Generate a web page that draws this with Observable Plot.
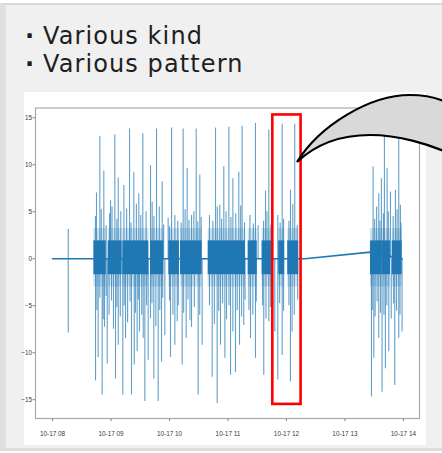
<!DOCTYPE html>
<html><head><meta charset="utf-8">
<script src="https://cdn.jsdelivr.net/npm/d3@7"></script>
<script src="https://cdn.jsdelivr.net/npm/@observablehq/plot@0.6"></script>
<style>
html,body{margin:0;padding:0;background:#fff;width:442px;height:453px;overflow:hidden;}
#slide{position:absolute;left:0;top:3px;width:460px;height:448px;background:#f0f0f0;box-sizing:border-box;border-top:2px solid #d9d9d9;border-left:6px solid #e0e0e0;border-bottom:3px solid #dcdcdc;}
.txt{position:absolute;height:24px;font-family:"DejaVu Sans",sans-serif;font-size:24px;line-height:24px;color:#1e1e1e;white-space:nowrap;}
.t{left:43px;letter-spacing:1.1px;}
.b{left:25px;font-weight:bold;}
#chart{position:absolute;left:24px;top:92px;}
#overlay{position:absolute;left:0;top:0;pointer-events:none;}
</style></head>
<body>
<div id="slide"></div>
<div class="txt b" style="top:24.3px">·</div>
<div class="txt t" style="top:24.3px">Various kind</div>
<div class="txt b" style="top:52.3px">·</div>
<div class="txt t" style="top:52.3px">Various pattern</div>
<div id="chart"></div>
<svg id="overlay" width="442" height="453"></svg>
<script>
// minutes after 10-17 08:00
const hourTicks = [8, 9, 10, 11, 12, 13, 14];
const hourLabels = ["10-17 08", "10-17 09", "10-17 10", "10-17 11", "10-17 12", "10-17 13", "10-17 14"];
const yTicks = [-15, -10, -5, 0, 5, 10, 15];

// baseline trace (min, value)
const baseMin = [0, 258.8, 326.2, 358.7];
const baseVal = [0, 0, 0.7, 0];

// dense bursts: start, end (min)
const burstStart = [42.4, 57.1, 72.1, 100.5, 119.3, 131.3, 159.7, 200.7, 215.0, 232.1, 241.3, 326.2, 338.2, 348.5];
const burstEnd   = [55.1, 71.4, 98.8, 114.2, 130.2, 153.5, 198.0, 210.0, 225.3, 238.2, 252.6, 338.2, 346.7, 358.7];

// small isolated event
const eventMin = [16.1, 16.1];
const eventVal = [3.1, -7.9];

// upward spikes (min, value)
const upMin = [45.1, 48.5, 52.6, 59.5, 63.9, 67.4, 73.2, 79.0, 83.4, 88.5, 92.6, 100.5, 102.2, 106.7, 112.5, 118.6, 122.1, 125.5, 134.0, 138.1, 142.6, 147.4, 151.1, 167.2, 171.6, 175.7, 180.9, 185.0, 191.1, 194.5, 208.2, 210.9, 218.5, 221.9, 231.1, 235.6, 244.1, 248.5, 328.9, 334.7, 337.4, 340.5, 343.3, 346.7, 351.8, 355.2, 356.9,
  44, 50, 55, 58.5, 61, 66, 70, 76, 80.5, 86, 90.5, 96, 104, 109.5, 114, 120, 128.5, 132, 136, 140, 145, 149, 152.5, 161, 164.5, 169, 173.5, 178, 183, 188, 193, 197, 202.5, 206, 216.5, 220, 224, 233.5, 237, 242.5, 246.5, 251, 330.5, 332.5, 336, 339.5, 344.5, 349.5, 353.5, 357.5];
const upVal = [7.0, 13.0, 9.3, 6.2, 13.2, 8.6, 7.8, 13.8, 9.2, 6.9, 13.3, 9.9, 6.0, 13.8, 8.2, 4.3, 13.9, 4.6, 13.8, 9.6, 4.6, 13.8, 8.9, 13.9, 5.7, 9.8, 14.0, 8.5, 9.2, 14.1, 14.4, 3.5, 7.2, 13.7, 4.6, 14.3, 7.3, 14.3, 9.8, 6.9, 8.5, 14.0, 9.6, 7.1, 7.3, 14.0, 5.7,
  4.5, 5.2, 3.5, 4.8, 5.5, 4.2, 5.0, 5.3, 3.8, 5.8, 4.6, 5.0, 4.5, 5.5, 3.6, 3.4, 4.0, 3.8, 5.2, 4.1, 5.0, 3.9, 4.4, 4.6, 4.0, 5.5, 4.2, 5.0, 4.4, 4.8, 5.6, 3.8, 4.6, 3.7, 4.0, 5.0, 3.6, 3.8, 4.2, 4.0, 5.8, 3.5, 4.2, 5.5, 4.0, 4.8, 5.0, 4.5, 5.2, 3.8];

// downward spikes (min, value)
const downMin = [44.1, 46.8, 50.9, 53.3, 56.1, 64.6, 67.4, 72.1, 74.9, 81.0, 83.8, 86.8, 89.2, 94.7, 98.1, 100.5, 103.9, 108.4, 111.8, 115.2, 121.0, 125.5, 127.9, 133.0, 137.1, 142.6, 149.4, 153.5, 163.8, 168.9, 172.3, 176.8, 182.6, 187.7, 191.8, 196.2, 203.1, 208.2, 216.7, 221.9, 228.0, 231.1, 235.6, 244.1, 245.8, 327.2, 329.6, 334.7, 338.1, 341.5, 345.0, 351.1, 355.2, 358.6,
  45.5, 48.5, 52, 55, 58, 60.5, 62.5, 66, 69.5, 73.5, 77, 79.5, 85, 88, 91.5, 93, 96.5, 102, 106, 110, 113, 120, 123.5, 129, 134.5, 139, 141, 145.5, 151, 161, 166, 170.5, 174.5, 178.5, 181, 185, 189.5, 194, 197.5, 201.5, 205.5, 209, 215.5, 219, 223.5, 233, 237, 242.5, 248, 251.5, 328, 331, 333, 336.5, 340, 343, 347.5, 350, 353, 356.5];
const downVal = [-13.0, -10.5, -14.5, -7.3, -11.2, -12.8, -9.2, -14.5, -8.5, -14.5, -11.3, -9.9, -7.8, -15.2, -10.8, -6.4, -12.8, -15.2, -11.0, -8.2, -10.5, -9.2, -6.7, -11.3, -8.5, -7.3, -14.5, -9.2, -12.6, -15.4, -9.2, -10.6, -12.4, -12.1, -9.2, -7.1, -8.5, -10.6, -12.4, -6.7, -7.8, -12.9, -10.3, -13.1, -7.8, -14.7, -10.6, -8.5, -14.2, -11.7, -9.9, -13.5, -8.5, -7.8,
  -5.5, -4.2, -6.5, -4.0, -6.0, -4.5, -7.5, -5.2, -6.2, -5.0, -6.8, -4.6, -5.8, -4.4, -6.0, -8.5, -5.0, -4.8, -7.2, -5.5, -4.2, -4.5, -6.0, -5.0, -5.8, -4.4, -6.6, -5.2, -6.0, -5.0, -7.0, -5.6, -4.8, -6.5, -5.0, -7.8, -5.5, -6.2, -4.4, -5.5, -6.0, -4.6, -5.0, -6.4, -5.2, -4.8, -5.6, -5.0, -6.0, -4.4, -5.5, -6.2, -4.6, -5.8, -6.0, -5.0, -6.4, -4.8, -5.6, -6.0];

// highlighted window (red box)
const boxStart = [226.0], boxEnd = [255.0], boxLow = [-15.5], boxHigh = [15.3];

const base = new Date(2019, 9, 17, 8, 0, 0).getTime();
const t = m => new Date(base + m * 60000);

const baseline = baseMin.map((m, i) => ({x: t(m), y: baseVal[i]}));
const bursts = burstStart.map((s, i) => ({x1: t(s), x2: t(burstEnd[i])}));
const spikes = [
  ...eventMin.map((m, i) => ({x: t(m), v: eventVal[i]})),
  ...upMin.map((m, i) => ({x: t(m), v: upVal[i]})),
  ...downMin.map((m, i) => ({x: t(m), v: downVal[i]}))
];
const box = boxStart.map((s, i) => ({x1: t(s), x2: t(boxEnd[i]), y1: boxLow[i], y2: boxHigh[i]}));
const hourDates = hourTicks.map(h => t((h - 8) * 60));
const labelOf = d => hourLabels[hourTicks.indexOf(d.getHours())];
const blue = "#1f77b4";

const chart = Plot.plot({
  width: 402, height: 353,
  marginLeft: 11, marginRight: 7, marginTop: 15.5, marginBottom: 27,
  style: {background: "white", overflow: "visible", fontFamily: "'Liberation Sans Narrow','Liberation Sans',sans-serif", fontSize: "6.4px", color: "#3a3a3a"},
  x: {type: "time", domain: [t(-17.5), t(376.5)]},
  y: {domain: [-17.0, 16.04]},
  marks: [
    Plot.rect(bursts, {x1: "x1", x2: "x2", y1: -3.0, y2: 3.2, fill: blue, fillOpacity: 0.22}),
    Plot.ruleX(spikes, {x: "x", y1: 0, y2: "v", stroke: blue, strokeWidth: 1.1, strokeOpacity: 0.7}),
    Plot.rect(bursts, {x1: "x1", x2: "x2", y1: -1.7, y2: 1.9, fill: blue}),
    Plot.line(baseline, {x: "x", y: "y", stroke: blue, strokeWidth: 1.6}),
    Plot.frame({stroke: "#a8a8a8", strokeWidth: 1.2}),
    Plot.axisY({ticks: yTicks, tickSize: 2.5, tickPadding: 1, stroke: "#888", label: null}),
    Plot.axisX({ticks: hourDates, tickFormat: labelOf, tickSize: 3, tickPadding: 10, stroke: "#888", label: null}),
    Plot.rect(box, {x1: "x1", x2: "x2", y1: "y1", y2: "y2", fill: "none", stroke: "#ff0000", strokeWidth: 2.6})
  ]
});
document.getElementById("chart").appendChild(chart);

// callout bubble (decoration over the picture)
d3.select("#overlay").append("path")
  .attr("d", "M297,162 C320,125 370,95 410,95 C425,95 437,98 446,102 L446,152 C430,145 400,135 370,135 C340,135 315,145 297,162 Z")
  .attr("fill", "#d9d9d9").attr("stroke", "#000").attr("stroke-width", 2.2).attr("stroke-linejoin", "miter");
</script>
</body></html>
